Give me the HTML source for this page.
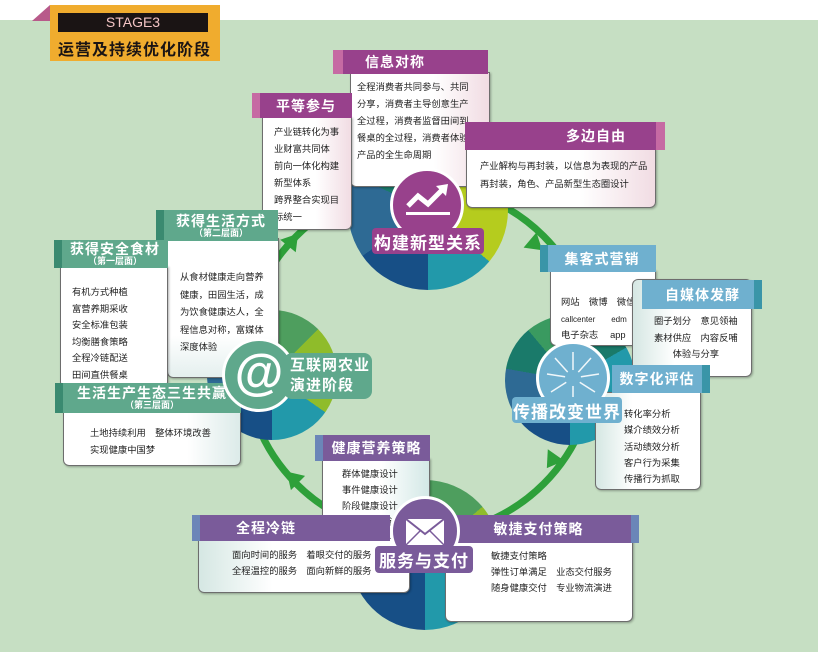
<!DOCTYPE html>
<html><head><meta charset="utf-8">
<style>
*{margin:0;padding:0;box-sizing:border-box}
body{width:818px;height:652px;position:relative;overflow:hidden;background:#c6dfc3;font-family:"Liberation Sans","Noto Sans CJK SC",sans-serif}
.a{position:absolute}
.body{position:absolute;background:linear-gradient(90deg,#fff 0%,#fff 60%,#f1dce3 100%);border:1px solid #6d6d6d;border-radius:0 0 6px 6px;box-shadow:1px 1px 2px rgba(0,0,0,.3)}
.gb{background:linear-gradient(90deg,#d5e7e3 0%,#fff 35%,#fff 100%)}
.gr{background:linear-gradient(90deg,#fff 0%,#fff 55%,#d3e8e6 100%)}
.hd{position:absolute;color:#fff;font-weight:bold;font-size:14px;line-height:1;display:flex;align-items:center;justify-content:center;letter-spacing:1px}
.t{position:absolute;font-size:9.5px;color:#222;line-height:17px;white-space:nowrap}
.sub{font-size:9px;display:block;text-align:center;letter-spacing:0;margin-top:1px}
.lab{position:absolute;color:#fff;font-weight:bold;font-size:17px;border-radius:4px;display:flex;align-items:center;justify-content:center;letter-spacing:1px}
</style></head><body>
<div class="a" style="left:0;top:0;width:818px;height:20px;background:#fff"></div>
<div class="a" style="left:32px;top:5px;width:0;height:0;border-left:18px solid transparent;border-bottom:16px solid #b85a8a"></div>
<div class="a" style="left:50px;top:5px;width:170px;height:56px;background:#f0ac2e"></div>
<div class="a" style="left:58px;top:13px;width:150px;height:19px;background:#1a1414;color:#f3c4c4;font-size:14px;text-align:center;line-height:19px">STAGE3</div>
<div class="a" style="left:58px;top:36px;width:160px;font-size:16px;font-weight:bold;color:#1a1414;letter-spacing:1px">运营及持续优化阶段</div>

<svg class="a" style="left:0;top:0" width="818" height="652">
<circle cx="420" cy="360" r="175" fill="none" stroke="#2ea03a" stroke-width="7"/>
<g fill="#2ea03a">
<polygon points="0,-10 16,0 0,10" transform="translate(288,246) rotate(309)"/>
<polygon points="0,-10 16,0 0,10" transform="translate(530,240) rotate(40)"/>
<polygon points="0,-10 16,0 0,10" transform="translate(556,455) rotate(125)"/>
<polygon points="0,-10 16,0 0,10" transform="translate(298,483) rotate(225)"/>
</g>
</svg>

<div class="a" style="left:348px;top:130px;width:160px;height:160px;border-radius:50%;background:conic-gradient(#b5cc1e 0deg 130deg,#2299aa 130deg 180deg,#174f86 180deg 235deg,#2e6a94 235deg 295deg,#1a7a6a 295deg 360deg)"></div>
<div class="a" style="left:207px;top:310px;width:130px;height:130px;border-radius:50%;background:conic-gradient(#4e9e5e 0deg 45deg,#8fbc2a 45deg 125deg,#2299aa 125deg 180deg,#174f86 180deg 240deg,#2e6a94 240deg 300deg,#1a7a6a 300deg 360deg)"></div>
<div class="a" style="left:505px;top:315px;width:130px;height:130px;border-radius:50%;background:conic-gradient(#1a7a6a 0deg 60deg,#2299aa 60deg 180deg,#174f86 180deg 240deg,#2e6a94 240deg 280deg,#1a7a6a 280deg 320deg,#3a9a60 320deg 360deg)"></div>
<div class="a" style="left:350px;top:480px;width:150px;height:150px;border-radius:50%;background:conic-gradient(#4e9e5e 0deg 50deg,#8fbc2a 50deg 110deg,#2299aa 110deg 180deg,#174f86 180deg 240deg,#2299aa 240deg 300deg,#4e9e5e 300deg 360deg)"></div>

<div class="body" style="left:350px;top:72px;width:140px;height:115px"></div>
<div class="hd" style="left:333px;top:50px;width:155px;height:24px;background:#98418c;justify-content:flex-start;padding-left:22px;border-left:10px solid #c66aa3">信息对称</div>
<div class="t" style="left:357px;top:79px;font-size:9.3px">全程消费者共同参与、共同<br>分享，消费者主导创意生产<br>全过程，消费者监督田间到<br>餐桌的全过程，消费者体验<br>产品的全生命周期</div>
<div class="body" style="left:262px;top:117px;width:90px;height:113px"></div>
<div class="hd" style="left:252px;top:93px;width:100px;height:25px;background:#98418c;border-left:8px solid #c66aa3">平等参与</div>
<div class="t" style="left:274px;top:124px;font-size:9.3px">产业链转化为事<br>业财富共同体<br>前向一体化构建<br>新型体系<br>跨界整合实现目<br>标统一</div>
<div class="body" style="left:466px;top:148px;width:190px;height:60px"></div>
<div class="hd" style="left:465px;top:122px;width:200px;height:28px;background:#98418c;justify-content:flex-end;padding-right:30px;border-right:9px solid #c66aa3">多边自由</div>
<div class="t" style="left:480px;top:157px;font-size:9.3px;line-height:18px">产业解构与再封装，以信息为表现的产品<br>再封装，角色、产品新型生态圈设计</div>

<div class="a" style="left:390px;top:168px;width:74px;height:74px;border-radius:50%;background:#98418c;border:3px solid #fff"></div>
<svg class="a" style="left:400px;top:182px" width="56" height="42"><polyline points="8,24 18,14 28,22 42,8" fill="none" stroke="#fff" stroke-width="5"/><polygon points="36,4 48,2 46,14" fill="#fff"/><rect x="6" y="30" width="44" height="3" fill="#fff"/></svg>
<div class="lab" style="left:372px;top:228px;width:112px;height:26px;background:#98418c">构建新型关系</div>

<div class="body gb" style="left:167px;top:238px;width:112px;height:140px;background:linear-gradient(180deg,#fff 70%,#e4efee 100%)"></div>
<div class="hd" style="left:156px;top:210px;width:122px;height:31px;background:#5fa88c;flex-direction:column;border-left:8px solid #3a8a70">获得生活方式<span class="sub">（第二层面）</span></div>
<div class="t" style="left:180px;top:269px;font-size:9.3px;line-height:17.5px">从食材健康走向营养<br>健康，田园生活，成<br>为饮食健康达人，全<br>程信息对称，富媒体<br>深度体验</div>
<div class="body" style="left:60px;top:266px;width:108px;height:122px;background:#fff"></div>
<div class="hd" style="left:54px;top:240px;width:114px;height:28px;background:#5fa88c;flex-direction:column;border-left:8px solid #3a8a70">获得安全食材<span class="sub">（第一层面）</span></div>
<div class="t" style="left:72px;top:284px;font-size:9.3px;line-height:16.5px">有机方式种植<br>富营养期采收<br>安全标准包装<br>均衡膳食策略<br>全程冷链配送<br>田间直供餐桌</div>
<div class="body" style="left:63px;top:410px;width:178px;height:56px;background:linear-gradient(90deg,#fff 70%,#dcebe9 100%)"></div>
<div class="hd" style="left:55px;top:383px;width:186px;height:30px;background:#5fa88c;flex-direction:column;border-left:8px solid #3a8a70">生活生产生态三生共赢<span class="sub">（第三层面）</span></div>
<div class="t" style="left:90px;top:425px;font-size:9.3px;line-height:17px">土地持续利用　整体环境改善<br>实现健康中国梦</div>

<div class="a" style="left:222px;top:338px;width:74px;height:74px;border-radius:50%;background:#5fa88c;border:3px solid #fff;color:#fff;font-size:50px;font-weight:bold;text-align:center;line-height:62px">@</div>
<div class="lab" style="left:284px;top:353px;width:88px;height:46px;background:#5fa88c;font-size:15px;line-height:20px;text-align:left;justify-content:flex-start;padding-left:6px;border-radius:8px">互联网农业<br>演进阶段</div>

<div class="body" style="left:550px;top:270px;width:106px;height:76px;background:#fff"></div>
<div class="hd" style="left:540px;top:245px;width:116px;height:27px;background:#6fb0cf;border-left:8px solid #3a95a8">集客式营销</div>
<div class="t" style="left:561px;top:294px;font-size:9.3px">网站　微博　微信</div>
<div class="t" style="left:561px;top:311px;font-size:8px">callcenter　　edm</div>
<div class="t" style="left:561px;top:327px;font-size:9.3px">电子杂志　 app</div>
<div class="body gb" style="left:632px;top:279px;width:120px;height:98px;border-radius:6px"></div>
<div class="hd" style="left:642px;top:280px;width:120px;height:29px;background:#6fb0cf;justify-content:flex-end;padding-right:14px;border-right:8px solid #3a95a8">自媒体发酵</div>
<div class="t" style="left:654px;top:313px;font-size:9.3px;line-height:16.5px">圈子划分　意见领袖<br>素材供应　内容反哺<br>　　体验与分享</div>
<div class="body gb" style="left:595px;top:392px;width:106px;height:98px"></div>
<div class="hd" style="left:612px;top:365px;width:98px;height:28px;background:#6fb0cf;border-right:8px solid #3a95a8">数字化评估</div>
<div class="t" style="left:624px;top:406px;font-size:9.3px;line-height:16.3px">转化率分析<br>媒介绩效分析<br>活动绩效分析<br>客户行为采集<br>传播行为抓取</div>
<div class="a" style="left:536px;top:341px;width:74px;height:74px;border-radius:50%;background:#6fb0cf;border:3px solid #fff"></div>
<svg class="a" style="left:539px;top:344px" width="68" height="68"><g stroke="#fff" stroke-width="1.5" opacity=".9">
<line x1="34" y1="34" x2="34" y2="8"/><line x1="34" y1="34" x2="52" y2="14"/><line x1="34" y1="34" x2="60" y2="30"/><line x1="34" y1="34" x2="56" y2="48"/><line x1="34" y1="34" x2="16" y2="14"/><line x1="34" y1="34" x2="8" y2="30"/><line x1="34" y1="34" x2="12" y2="48"/><line x1="34" y1="34" x2="34" y2="60"/></g><circle cx="34" cy="34" r="8" fill="#6fb0cf"/></svg>
<div class="lab" style="left:512px;top:397px;width:110px;height:26px;background:#6fb0cf">传播改变世界</div>

<div class="body gr" style="left:322px;top:458px;width:108px;height:92px"></div>
<div class="hd" style="left:315px;top:435px;width:115px;height:26px;background:#7a5b9a;border-left:8px solid #6b86b8">健康营养策略</div>
<div class="t" style="left:342px;top:466px;font-size:9.3px;line-height:16px">群体健康设计<br>事件健康设计<br>阶段健康设计<br>食疗养生设计</div>
<div class="body gb" style="left:198px;top:538px;width:212px;height:55px"></div>
<div class="hd" style="left:192px;top:515px;width:198px;height:26px;background:#7a5b9a;justify-content:flex-start;padding-left:36px;border-left:8px solid #6b86b8">全程冷链</div>
<div class="t" style="left:232px;top:547px;font-size:9.3px;line-height:16px">面向时间的服务　着眼交付的服务<br>全程温控的服务　面向新鲜的服务</div>
<div class="body" style="left:445px;top:540px;width:188px;height:82px;background:#fff"></div>
<div class="hd" style="left:446px;top:515px;width:193px;height:28px;background:#7a5b9a;border-right:8px solid #6b86b8">敏捷支付策略</div>
<div class="t" style="left:491px;top:548px;font-size:9.3px;line-height:16px">敏捷支付策略<br>弹性订单满足　业态交付服务<br>随身健康交付　专业物流演进</div>
<div class="a" style="left:390px;top:496px;width:70px;height:70px;border-radius:50%;background:#7a5b9a;border:3px solid #fff"></div>
<svg class="a" style="left:405px;top:518px" width="40" height="28"><rect x="1" y="1" width="38" height="26" fill="#fff"/><polyline points="1,1 20,16 39,1" fill="none" stroke="#7a5b9a" stroke-width="2"/><line x1="1" y1="27" x2="15" y2="13" stroke="#7a5b9a" stroke-width="1.5"/><line x1="39" y1="27" x2="25" y2="13" stroke="#7a5b9a" stroke-width="1.5"/></svg>
<div class="lab" style="left:375px;top:546px;width:98px;height:27px;background:#7a5b9a">服务与支付</div>
</body></html>
